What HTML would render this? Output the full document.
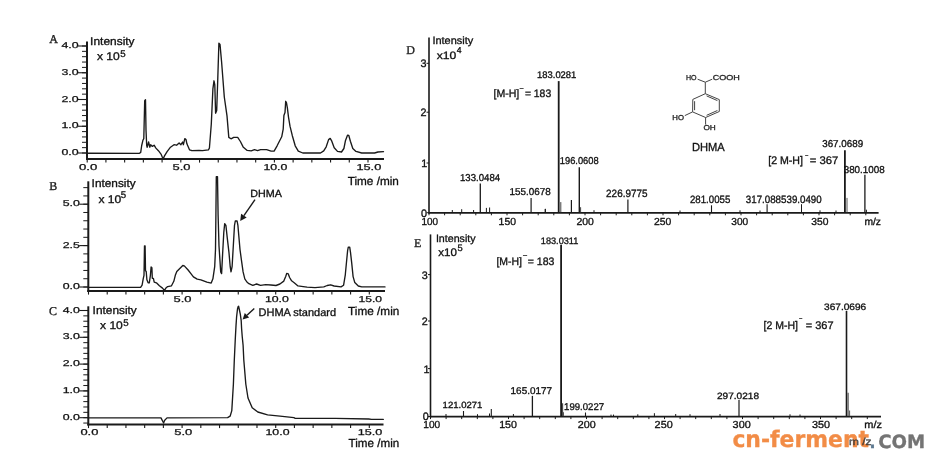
<!DOCTYPE html>
<html><head><meta charset="utf-8"><title>DHMA chromatograms and mass spectra</title>
<style>html,body{margin:0;padding:0;background:#fff;width:938px;height:464px;overflow:hidden}svg{display:block}</style>
</head><body>
<svg width="938" height="464" viewBox="0 0 938 464" font-family="'Liberation Sans', Arial, sans-serif" fill="#111" text-rendering="geometricPrecision">
<rect width="938" height="464" fill="#ffffff"/>
<line x1="87" y1="41.5" x2="87" y2="160" stroke="#1a1a1a" stroke-width="2"/>
<line x1="86" y1="159" x2="384" y2="159" stroke="#1a1a1a" stroke-width="2"/>
<line x1="82" y1="153" x2="87" y2="153" stroke="#1a1a1a" stroke-width="1"/>
<line x1="82" y1="147.65" x2="87" y2="147.65" stroke="#1a1a1a" stroke-width="1"/>
<line x1="82" y1="142.3" x2="87" y2="142.3" stroke="#1a1a1a" stroke-width="1"/>
<line x1="82" y1="136.95" x2="87" y2="136.95" stroke="#1a1a1a" stroke-width="1"/>
<line x1="82" y1="131.6" x2="87" y2="131.6" stroke="#1a1a1a" stroke-width="1"/>
<line x1="82" y1="126.25" x2="87" y2="126.25" stroke="#1a1a1a" stroke-width="1"/>
<line x1="82" y1="120.9" x2="87" y2="120.9" stroke="#1a1a1a" stroke-width="1"/>
<line x1="82" y1="115.55" x2="87" y2="115.55" stroke="#1a1a1a" stroke-width="1"/>
<line x1="82" y1="110.2" x2="87" y2="110.2" stroke="#1a1a1a" stroke-width="1"/>
<line x1="82" y1="104.85" x2="87" y2="104.85" stroke="#1a1a1a" stroke-width="1"/>
<line x1="82" y1="99.5" x2="87" y2="99.5" stroke="#1a1a1a" stroke-width="1"/>
<line x1="82" y1="94.15" x2="87" y2="94.15" stroke="#1a1a1a" stroke-width="1"/>
<line x1="82" y1="88.8" x2="87" y2="88.8" stroke="#1a1a1a" stroke-width="1"/>
<line x1="82" y1="83.45" x2="87" y2="83.45" stroke="#1a1a1a" stroke-width="1"/>
<line x1="82" y1="78.1" x2="87" y2="78.1" stroke="#1a1a1a" stroke-width="1"/>
<line x1="82" y1="72.75" x2="87" y2="72.75" stroke="#1a1a1a" stroke-width="1"/>
<line x1="82" y1="67.4" x2="87" y2="67.4" stroke="#1a1a1a" stroke-width="1"/>
<line x1="82" y1="62.05" x2="87" y2="62.05" stroke="#1a1a1a" stroke-width="1"/>
<line x1="82" y1="56.7" x2="87" y2="56.7" stroke="#1a1a1a" stroke-width="1"/>
<line x1="82" y1="51.35" x2="87" y2="51.35" stroke="#1a1a1a" stroke-width="1"/>
<line x1="82" y1="46" x2="87" y2="46" stroke="#1a1a1a" stroke-width="1"/>
<line x1="78" y1="153" x2="87" y2="153" stroke="#1a1a1a" stroke-width="1.1"/>
<text x="61.4" y="155.1" font-size="8.5" textLength="17.2" lengthAdjust="spacingAndGlyphs" stroke="#111" stroke-width="0.25">0.0</text>
<line x1="78" y1="126.25" x2="87" y2="126.25" stroke="#1a1a1a" stroke-width="1.1"/>
<text x="61.4" y="128.35" font-size="8.5" textLength="17.2" lengthAdjust="spacingAndGlyphs" stroke="#111" stroke-width="0.25">1.0</text>
<line x1="78" y1="99.5" x2="87" y2="99.5" stroke="#1a1a1a" stroke-width="1.1"/>
<text x="61.4" y="101.6" font-size="8.5" textLength="17.2" lengthAdjust="spacingAndGlyphs" stroke="#111" stroke-width="0.25">2.0</text>
<line x1="78" y1="72.75" x2="87" y2="72.75" stroke="#1a1a1a" stroke-width="1.1"/>
<text x="61.4" y="74.85" font-size="8.5" textLength="17.2" lengthAdjust="spacingAndGlyphs" stroke="#111" stroke-width="0.25">3.0</text>
<line x1="78" y1="46" x2="87" y2="46" stroke="#1a1a1a" stroke-width="1.1"/>
<text x="61.4" y="48.1" font-size="8.5" textLength="17.2" lengthAdjust="spacingAndGlyphs" stroke="#111" stroke-width="0.25">4.0</text>
<line x1="87.2" y1="159" x2="87.2" y2="162.6" stroke="#1a1a1a" stroke-width="1.1"/>
<line x1="105.92" y1="159" x2="105.92" y2="162.6" stroke="#1a1a1a" stroke-width="1.1"/>
<line x1="124.64" y1="159" x2="124.64" y2="162.6" stroke="#1a1a1a" stroke-width="1.1"/>
<line x1="143.36" y1="159" x2="143.36" y2="162.6" stroke="#1a1a1a" stroke-width="1.1"/>
<line x1="162.08" y1="159" x2="162.08" y2="162.6" stroke="#1a1a1a" stroke-width="1.1"/>
<line x1="180.8" y1="159" x2="180.8" y2="162.6" stroke="#1a1a1a" stroke-width="1.1"/>
<line x1="199.52" y1="159" x2="199.52" y2="162.6" stroke="#1a1a1a" stroke-width="1.1"/>
<line x1="218.24" y1="159" x2="218.24" y2="162.6" stroke="#1a1a1a" stroke-width="1.1"/>
<line x1="236.96" y1="159" x2="236.96" y2="162.6" stroke="#1a1a1a" stroke-width="1.1"/>
<line x1="255.68" y1="159" x2="255.68" y2="162.6" stroke="#1a1a1a" stroke-width="1.1"/>
<line x1="274.4" y1="159" x2="274.4" y2="162.6" stroke="#1a1a1a" stroke-width="1.1"/>
<line x1="293.12" y1="159" x2="293.12" y2="162.6" stroke="#1a1a1a" stroke-width="1.1"/>
<line x1="311.84" y1="159" x2="311.84" y2="162.6" stroke="#1a1a1a" stroke-width="1.1"/>
<line x1="330.56" y1="159" x2="330.56" y2="162.6" stroke="#1a1a1a" stroke-width="1.1"/>
<line x1="349.28" y1="159" x2="349.28" y2="162.6" stroke="#1a1a1a" stroke-width="1.1"/>
<line x1="368" y1="159" x2="368" y2="162.6" stroke="#1a1a1a" stroke-width="1.1"/>
<text x="79" y="170.3" font-size="8.5" textLength="18.3" lengthAdjust="spacingAndGlyphs" stroke="#111" stroke-width="0.25">0.0</text>
<text x="172.5" y="170.3" font-size="8.5" textLength="18" lengthAdjust="spacingAndGlyphs" stroke="#111" stroke-width="0.25">5.0</text>
<text x="263.4" y="170.3" font-size="8.5" textLength="24" lengthAdjust="spacingAndGlyphs" stroke="#111" stroke-width="0.25">10.0</text>
<text x="356.4" y="170.3" font-size="8.5" textLength="24.9" lengthAdjust="spacingAndGlyphs" stroke="#111" stroke-width="0.25">15.0</text>
<text x="49.2" y="43.4" font-size="12" stroke="#1c1c1c" stroke-width="0.32" font-family="'Liberation Serif', 'Times New Roman', serif" fill="#1c1c1c">A</text>
<text x="90.1" y="44.6" font-size="11.2" stroke="#111" stroke-width="0.32" textLength="44.5" lengthAdjust="spacingAndGlyphs">Intensity</text>
<text x="96.9" y="60.4" font-size="11.2" stroke="#111" stroke-width="0.32" textLength="22.8" lengthAdjust="spacingAndGlyphs">x 10</text>
<text x="120.2" y="56.9" font-size="9.7" stroke="#111" stroke-width="0.32">5</text>
<text x="347.7" y="184.7" font-size="11.6" stroke="#111" stroke-width="0.32" textLength="51.2" lengthAdjust="spacingAndGlyphs">Time /min</text>
<polyline points="88,153.2 139.5,153.3 140.7,152.4 141.7,145.5 142.9,140.3 143.8,138.6 144.7,100.7 145.5,99.8 146,130 146.7,145.5 147.2,147.2 148.6,142 149.8,147.2 150.7,144.7 152.4,146.4 154.1,145.2 155.9,148.1 158.4,150.7 161,154.1 163.1,159 164.5,155.9 167.1,151.6 170.5,147.2 174,144.7 176.6,145.2 179.1,142.9 180.9,144.7 182.6,142 183.4,144.7 184.8,138.6 186,139.5 186.9,143.8 189.5,149.8 192,150.7 199,150.3 202.4,150.7 208.4,149.8 209.4,148.2 211.3,124 212.9,88.9 214,80.8 214.8,84.9 215.6,113.2 216.7,110.5 217.8,78 218.9,43.1 220,44.4 221.6,62 224.3,97 227,115.9 228.8,137.4 231,138.8 233.7,137.4 237.7,137.4 240.4,141.5 243.1,146.9 247.2,150.4 251.2,150.9 254.5,149.6 257.5,150.6 260.6,149.6 266.6,149.6 271.1,151.1 274.1,151.1 277.1,145.8 281.7,136.8 283.2,129.2 283.9,115.6 285,112.6 285.7,101.3 286.5,102.8 287.4,108.1 288.5,117.1 290,126.2 292.2,135.2 295.2,145.8 298.3,151.1 302.8,153 320.5,153 323.7,150.9 326.2,146.8 328.6,139.6 330.2,138.4 331.8,141.2 334.2,147.7 337.5,151.4 341.5,152 343.9,148.5 345.5,140.4 347.5,135.2 348.8,135.5 350.4,141.2 352.8,148.5 356,151.4 361.7,153 374.6,153 377.9,152 383.5,151.7" fill="none" stroke="#1a1a1a" stroke-width="1.35" stroke-linejoin="round" stroke-linecap="round"/>
<line x1="88.3" y1="181.3" x2="88.3" y2="292" stroke="#1a1a1a" stroke-width="2"/>
<line x1="87.3" y1="291" x2="385" y2="291" stroke="#1a1a1a" stroke-width="2"/>
<line x1="83.3" y1="287" x2="88.3" y2="287" stroke="#1a1a1a" stroke-width="1"/>
<line x1="83.3" y1="278.72" x2="88.3" y2="278.72" stroke="#1a1a1a" stroke-width="1"/>
<line x1="83.3" y1="270.44" x2="88.3" y2="270.44" stroke="#1a1a1a" stroke-width="1"/>
<line x1="83.3" y1="262.16" x2="88.3" y2="262.16" stroke="#1a1a1a" stroke-width="1"/>
<line x1="83.3" y1="253.88" x2="88.3" y2="253.88" stroke="#1a1a1a" stroke-width="1"/>
<line x1="83.3" y1="245.6" x2="88.3" y2="245.6" stroke="#1a1a1a" stroke-width="1"/>
<line x1="83.3" y1="237.32" x2="88.3" y2="237.32" stroke="#1a1a1a" stroke-width="1"/>
<line x1="83.3" y1="229.04" x2="88.3" y2="229.04" stroke="#1a1a1a" stroke-width="1"/>
<line x1="83.3" y1="220.76" x2="88.3" y2="220.76" stroke="#1a1a1a" stroke-width="1"/>
<line x1="83.3" y1="212.48" x2="88.3" y2="212.48" stroke="#1a1a1a" stroke-width="1"/>
<line x1="83.3" y1="204.2" x2="88.3" y2="204.2" stroke="#1a1a1a" stroke-width="1"/>
<line x1="83.3" y1="195.92" x2="88.3" y2="195.92" stroke="#1a1a1a" stroke-width="1"/>
<line x1="83.3" y1="187.64" x2="88.3" y2="187.64" stroke="#1a1a1a" stroke-width="1"/>
<line x1="79.3" y1="287" x2="88.3" y2="287" stroke="#1a1a1a" stroke-width="1.1"/>
<text x="62.7" y="289.1" font-size="8.5" textLength="17.2" lengthAdjust="spacingAndGlyphs" stroke="#111" stroke-width="0.25">0.0</text>
<line x1="79.3" y1="245.6" x2="88.3" y2="245.6" stroke="#1a1a1a" stroke-width="1.1"/>
<text x="62.7" y="247.7" font-size="8.5" textLength="17.2" lengthAdjust="spacingAndGlyphs" stroke="#111" stroke-width="0.25">2.5</text>
<line x1="79.3" y1="204.2" x2="88.3" y2="204.2" stroke="#1a1a1a" stroke-width="1.1"/>
<text x="62.7" y="206.3" font-size="8.5" textLength="17.2" lengthAdjust="spacingAndGlyphs" stroke="#111" stroke-width="0.25">5.0</text>
<line x1="88.5" y1="291" x2="88.5" y2="294.6" stroke="#1a1a1a" stroke-width="1.1"/>
<line x1="107.22" y1="291" x2="107.22" y2="294.6" stroke="#1a1a1a" stroke-width="1.1"/>
<line x1="125.94" y1="291" x2="125.94" y2="294.6" stroke="#1a1a1a" stroke-width="1.1"/>
<line x1="144.66" y1="291" x2="144.66" y2="294.6" stroke="#1a1a1a" stroke-width="1.1"/>
<line x1="163.38" y1="291" x2="163.38" y2="294.6" stroke="#1a1a1a" stroke-width="1.1"/>
<line x1="182.1" y1="291" x2="182.1" y2="294.6" stroke="#1a1a1a" stroke-width="1.1"/>
<line x1="200.82" y1="291" x2="200.82" y2="294.6" stroke="#1a1a1a" stroke-width="1.1"/>
<line x1="219.54" y1="291" x2="219.54" y2="294.6" stroke="#1a1a1a" stroke-width="1.1"/>
<line x1="238.26" y1="291" x2="238.26" y2="294.6" stroke="#1a1a1a" stroke-width="1.1"/>
<line x1="256.98" y1="291" x2="256.98" y2="294.6" stroke="#1a1a1a" stroke-width="1.1"/>
<line x1="275.7" y1="291" x2="275.7" y2="294.6" stroke="#1a1a1a" stroke-width="1.1"/>
<line x1="294.42" y1="291" x2="294.42" y2="294.6" stroke="#1a1a1a" stroke-width="1.1"/>
<line x1="313.14" y1="291" x2="313.14" y2="294.6" stroke="#1a1a1a" stroke-width="1.1"/>
<line x1="331.86" y1="291" x2="331.86" y2="294.6" stroke="#1a1a1a" stroke-width="1.1"/>
<line x1="350.58" y1="291" x2="350.58" y2="294.6" stroke="#1a1a1a" stroke-width="1.1"/>
<line x1="369.3" y1="291" x2="369.3" y2="294.6" stroke="#1a1a1a" stroke-width="1.1"/>
<text x="173.5" y="302.2" font-size="8.5" textLength="18" lengthAdjust="spacingAndGlyphs" stroke="#111" stroke-width="0.25">5.0</text>
<text x="264.9" y="302.2" font-size="8.5" textLength="24" lengthAdjust="spacingAndGlyphs" stroke="#111" stroke-width="0.25">10.0</text>
<text x="358.5" y="302.2" font-size="8.5" textLength="23.6" lengthAdjust="spacingAndGlyphs" stroke="#111" stroke-width="0.25">15.0</text>
<text x="49.2" y="189.5" font-size="12" stroke="#1c1c1c" stroke-width="0.32" font-family="'Liberation Serif', 'Times New Roman', serif" fill="#1c1c1c">B</text>
<text x="91.6" y="187.1" font-size="11.2" stroke="#111" stroke-width="0.32" textLength="44.1" lengthAdjust="spacingAndGlyphs">Intensity</text>
<text x="98.4" y="202.5" font-size="11.2" stroke="#111" stroke-width="0.32" textLength="22.8" lengthAdjust="spacingAndGlyphs">x 10</text>
<text x="120.8" y="198" font-size="9.7" stroke="#111" stroke-width="0.32">5</text>
<text x="348.1" y="314.6" font-size="11.6" stroke="#111" stroke-width="0.32" textLength="51.2" lengthAdjust="spacingAndGlyphs">Time /min</text>
<polyline points="88.5,287.4 140.6,287.4 142.1,285.1 143.3,278.3 144,275.3 144.5,245.8 145.1,245.8 145.5,270.8 146.2,271.5 146.9,279.8 148.1,282.8 149.3,282.8 150.4,275.3 151.1,267 151.9,267.7 152.3,278.3 153.4,278.3 154.2,282.1 156.4,282.8 159.4,285.8 162.5,288.1 164.4,290.4 165.9,288.1 167.7,286.6 171.5,285.8 173.8,281.3 175.3,275.3 176.8,271.5 179.8,268.5 182.8,265.5 184.3,265.9 188.1,270 191.1,273.8 193.4,276.8 197.2,279.1 200.9,279.8 206.9,282.2 211.2,283.1 212.9,278.8 214.7,266.7 215.5,249.5 215.9,215 216.3,176.7 217.5,176.7 218.1,215 219,246 219.8,258.1 220.7,271.9 221.6,273.6 222.4,258.1 223.8,232.2 224.7,223.6 225.9,225.3 227.2,237.4 229,252.9 230.2,266.7 231,271.9 232.1,266.7 233.3,246 234.5,225.3 235.3,221 237.1,221 237.9,225.3 238.8,235.7 240,249.5 241.4,259.8 243.1,271.9 244.8,278.8 246.9,282 248.9,283.7 252.8,285.3 256.6,284 260.5,285.3 265.7,284.6 270.9,285 276,285.5 279.9,284 283.8,281.1 285.8,276.2 286.7,273.4 288.3,273.9 289.6,277.5 291.6,280.8 294.2,282.7 298,285.9 303.2,286.6 307.1,287.2 315,287.6 323.8,286.9 327.2,285.5 330.7,284.8 334.1,286 341,286.9 343.6,285.2 345.3,274.8 346.6,261 347.6,250.7 348.3,247.2 349.7,247.2 350.5,252.4 351.7,262.8 353.1,276.6 354.8,282.6 358.3,286 361.7,286.9 385,286.9" fill="none" stroke="#1a1a1a" stroke-width="1.35" stroke-linejoin="round" stroke-linecap="round"/>
<text x="250.3" y="197.2" font-size="10.4" stroke="#111" stroke-width="0.32" textLength="31.6" lengthAdjust="spacingAndGlyphs">DHMA</text>
<line x1="88.3" y1="306.3" x2="88.3" y2="425.5" stroke="#1a1a1a" stroke-width="2"/>
<line x1="87.3" y1="424.5" x2="383.5" y2="424.5" stroke="#1a1a1a" stroke-width="2"/>
<line x1="83.3" y1="423.06" x2="88.3" y2="423.06" stroke="#1a1a1a" stroke-width="1"/>
<line x1="83.3" y1="417.7" x2="88.3" y2="417.7" stroke="#1a1a1a" stroke-width="1"/>
<line x1="83.3" y1="412.34" x2="88.3" y2="412.34" stroke="#1a1a1a" stroke-width="1"/>
<line x1="83.3" y1="406.98" x2="88.3" y2="406.98" stroke="#1a1a1a" stroke-width="1"/>
<line x1="83.3" y1="401.62" x2="88.3" y2="401.62" stroke="#1a1a1a" stroke-width="1"/>
<line x1="83.3" y1="396.26" x2="88.3" y2="396.26" stroke="#1a1a1a" stroke-width="1"/>
<line x1="83.3" y1="390.9" x2="88.3" y2="390.9" stroke="#1a1a1a" stroke-width="1"/>
<line x1="83.3" y1="385.54" x2="88.3" y2="385.54" stroke="#1a1a1a" stroke-width="1"/>
<line x1="83.3" y1="380.18" x2="88.3" y2="380.18" stroke="#1a1a1a" stroke-width="1"/>
<line x1="83.3" y1="374.82" x2="88.3" y2="374.82" stroke="#1a1a1a" stroke-width="1"/>
<line x1="83.3" y1="369.46" x2="88.3" y2="369.46" stroke="#1a1a1a" stroke-width="1"/>
<line x1="83.3" y1="364.1" x2="88.3" y2="364.1" stroke="#1a1a1a" stroke-width="1"/>
<line x1="83.3" y1="358.74" x2="88.3" y2="358.74" stroke="#1a1a1a" stroke-width="1"/>
<line x1="83.3" y1="353.38" x2="88.3" y2="353.38" stroke="#1a1a1a" stroke-width="1"/>
<line x1="83.3" y1="348.02" x2="88.3" y2="348.02" stroke="#1a1a1a" stroke-width="1"/>
<line x1="83.3" y1="342.66" x2="88.3" y2="342.66" stroke="#1a1a1a" stroke-width="1"/>
<line x1="83.3" y1="337.3" x2="88.3" y2="337.3" stroke="#1a1a1a" stroke-width="1"/>
<line x1="83.3" y1="331.94" x2="88.3" y2="331.94" stroke="#1a1a1a" stroke-width="1"/>
<line x1="83.3" y1="326.58" x2="88.3" y2="326.58" stroke="#1a1a1a" stroke-width="1"/>
<line x1="83.3" y1="321.22" x2="88.3" y2="321.22" stroke="#1a1a1a" stroke-width="1"/>
<line x1="83.3" y1="315.86" x2="88.3" y2="315.86" stroke="#1a1a1a" stroke-width="1"/>
<line x1="83.3" y1="310.5" x2="88.3" y2="310.5" stroke="#1a1a1a" stroke-width="1"/>
<line x1="79.3" y1="417.7" x2="88.3" y2="417.7" stroke="#1a1a1a" stroke-width="1.1"/>
<text x="62.7" y="419.8" font-size="8.5" textLength="17.2" lengthAdjust="spacingAndGlyphs" stroke="#111" stroke-width="0.25">0.0</text>
<line x1="79.3" y1="390.9" x2="88.3" y2="390.9" stroke="#1a1a1a" stroke-width="1.1"/>
<text x="62.7" y="393" font-size="8.5" textLength="17.2" lengthAdjust="spacingAndGlyphs" stroke="#111" stroke-width="0.25">1.0</text>
<line x1="79.3" y1="364.1" x2="88.3" y2="364.1" stroke="#1a1a1a" stroke-width="1.1"/>
<text x="62.7" y="366.2" font-size="8.5" textLength="17.2" lengthAdjust="spacingAndGlyphs" stroke="#111" stroke-width="0.25">2.0</text>
<line x1="79.3" y1="337.3" x2="88.3" y2="337.3" stroke="#1a1a1a" stroke-width="1.1"/>
<text x="62.7" y="339.4" font-size="8.5" textLength="17.2" lengthAdjust="spacingAndGlyphs" stroke="#111" stroke-width="0.25">3.0</text>
<line x1="79.3" y1="310.5" x2="88.3" y2="310.5" stroke="#1a1a1a" stroke-width="1.1"/>
<text x="62.7" y="312.6" font-size="8.5" textLength="17.2" lengthAdjust="spacingAndGlyphs" stroke="#111" stroke-width="0.25">4.0</text>
<line x1="88.5" y1="424.5" x2="88.5" y2="428.1" stroke="#1a1a1a" stroke-width="1.1"/>
<line x1="107.22" y1="424.5" x2="107.22" y2="428.1" stroke="#1a1a1a" stroke-width="1.1"/>
<line x1="125.94" y1="424.5" x2="125.94" y2="428.1" stroke="#1a1a1a" stroke-width="1.1"/>
<line x1="144.66" y1="424.5" x2="144.66" y2="428.1" stroke="#1a1a1a" stroke-width="1.1"/>
<line x1="163.38" y1="424.5" x2="163.38" y2="428.1" stroke="#1a1a1a" stroke-width="1.1"/>
<line x1="182.1" y1="424.5" x2="182.1" y2="428.1" stroke="#1a1a1a" stroke-width="1.1"/>
<line x1="200.82" y1="424.5" x2="200.82" y2="428.1" stroke="#1a1a1a" stroke-width="1.1"/>
<line x1="219.54" y1="424.5" x2="219.54" y2="428.1" stroke="#1a1a1a" stroke-width="1.1"/>
<line x1="238.26" y1="424.5" x2="238.26" y2="428.1" stroke="#1a1a1a" stroke-width="1.1"/>
<line x1="256.98" y1="424.5" x2="256.98" y2="428.1" stroke="#1a1a1a" stroke-width="1.1"/>
<line x1="275.7" y1="424.5" x2="275.7" y2="428.1" stroke="#1a1a1a" stroke-width="1.1"/>
<line x1="294.42" y1="424.5" x2="294.42" y2="428.1" stroke="#1a1a1a" stroke-width="1.1"/>
<line x1="313.14" y1="424.5" x2="313.14" y2="428.1" stroke="#1a1a1a" stroke-width="1.1"/>
<line x1="331.86" y1="424.5" x2="331.86" y2="428.1" stroke="#1a1a1a" stroke-width="1.1"/>
<line x1="350.58" y1="424.5" x2="350.58" y2="428.1" stroke="#1a1a1a" stroke-width="1.1"/>
<line x1="369.3" y1="424.5" x2="369.3" y2="428.1" stroke="#1a1a1a" stroke-width="1.1"/>
<text x="80.4" y="435" font-size="8.5" textLength="18" lengthAdjust="spacingAndGlyphs" stroke="#111" stroke-width="0.25">0.0</text>
<text x="174.2" y="435" font-size="8.5" textLength="18.1" lengthAdjust="spacingAndGlyphs" stroke="#111" stroke-width="0.25">5.0</text>
<text x="265.5" y="435" font-size="8.5" textLength="24" lengthAdjust="spacingAndGlyphs" stroke="#111" stroke-width="0.25">10.0</text>
<text x="357.8" y="435" font-size="8.5" textLength="24.6" lengthAdjust="spacingAndGlyphs" stroke="#111" stroke-width="0.25">15.0</text>
<text x="49.1" y="314.6" font-size="12" stroke="#1c1c1c" stroke-width="0.32" font-family="'Liberation Serif', 'Times New Roman', serif" fill="#1c1c1c">C</text>
<text x="92.6" y="313.8" font-size="11.2" stroke="#111" stroke-width="0.32" textLength="44.2" lengthAdjust="spacingAndGlyphs">Intensity</text>
<text x="100" y="329.3" font-size="11.2" stroke="#111" stroke-width="0.32" textLength="22.8" lengthAdjust="spacingAndGlyphs">x 10</text>
<text x="123.2" y="325.5" font-size="9.7" stroke="#111" stroke-width="0.32">5</text>
<text x="348.6" y="446.8" font-size="11.6" stroke="#111" stroke-width="0.32" textLength="50.6" lengthAdjust="spacingAndGlyphs">Time /min</text>
<polyline points="88.5,417.9 161,417.9 162.7,421.3 163.6,423 164.5,420.5 167,417.9 227.6,417.6 230.1,416.2 231.8,410.6 233.4,384 234.3,360 235.3,338.8 236,325.9 236.6,316.8 237.5,309 238.2,306.5 238.6,306.2 239.2,309 240.3,314.2 241.2,320.7 241.6,328.5 242.2,336.2 243.1,345.3 243.8,360 245.8,384 248,398 252.2,407.8 257.8,412 267.6,414.8 280,416.2 293.9,417.7 295.2,418.3 335.4,418.4 368.7,419 371.5,419.4 383.3,419.4" fill="none" stroke="#1a1a1a" stroke-width="1.35" stroke-linejoin="round" stroke-linecap="round"/>
<text x="258.5" y="315.8" font-size="10.9" stroke="#111" stroke-width="0.32" textLength="77.6" lengthAdjust="spacingAndGlyphs">DHMA standard</text>
<line x1="255" y1="199.7" x2="243.91" y2="215.66" stroke="#1a1a1a" stroke-width="1.4"/>
<polygon points="240.2,221 241.12,213.72 246.7,217.6" fill="#1a1a1a"/>
<line x1="254.3" y1="308.4" x2="246.97" y2="315.29" stroke="#1a1a1a" stroke-width="1.4"/>
<polygon points="242.6,319.4 244.78,312.96 249.16,317.62" fill="#1a1a1a"/>
<line x1="429" y1="37.5" x2="429" y2="213.8" stroke="#1a1a1a" stroke-width="1.6"/>
<line x1="428.5" y1="212.8" x2="878.6" y2="212.8" stroke="#1a1a1a" stroke-width="1.8"/>
<text x="420.4" y="67.2" font-size="10.8" stroke="#111" stroke-width="0.32">3</text>
<line x1="426.5" y1="63.3" x2="429" y2="63.3" stroke="#1a1a1a" stroke-width="1"/>
<text x="420.4" y="116.1" font-size="10.8" stroke="#111" stroke-width="0.32">2</text>
<line x1="426.5" y1="112.2" x2="429" y2="112.2" stroke="#1a1a1a" stroke-width="1"/>
<text x="421.25" y="166.9" font-size="10.8" stroke="#111" stroke-width="0.32">1</text>
<line x1="426.5" y1="163" x2="429" y2="163" stroke="#1a1a1a" stroke-width="1"/>
<text x="421.05" y="216.6" font-size="10.8" stroke="#111" stroke-width="0.32">0</text>
<line x1="426.5" y1="212.7" x2="429" y2="212.7" stroke="#1a1a1a" stroke-width="1"/>
<line x1="429" y1="212.8" x2="429" y2="215.3" stroke="#1a1a1a" stroke-width="1"/>
<line x1="444.6" y1="212.8" x2="444.6" y2="215.3" stroke="#1a1a1a" stroke-width="1"/>
<line x1="460.2" y1="212.8" x2="460.2" y2="215.3" stroke="#1a1a1a" stroke-width="1"/>
<line x1="475.8" y1="212.8" x2="475.8" y2="215.3" stroke="#1a1a1a" stroke-width="1"/>
<line x1="491.4" y1="212.8" x2="491.4" y2="215.3" stroke="#1a1a1a" stroke-width="1"/>
<line x1="507" y1="212.8" x2="507" y2="215.3" stroke="#1a1a1a" stroke-width="1"/>
<line x1="522.6" y1="212.8" x2="522.6" y2="215.3" stroke="#1a1a1a" stroke-width="1"/>
<line x1="538.2" y1="212.8" x2="538.2" y2="215.3" stroke="#1a1a1a" stroke-width="1"/>
<line x1="553.8" y1="212.8" x2="553.8" y2="215.3" stroke="#1a1a1a" stroke-width="1"/>
<line x1="569.4" y1="212.8" x2="569.4" y2="215.3" stroke="#1a1a1a" stroke-width="1"/>
<line x1="585" y1="212.8" x2="585" y2="215.3" stroke="#1a1a1a" stroke-width="1"/>
<line x1="600.6" y1="212.8" x2="600.6" y2="215.3" stroke="#1a1a1a" stroke-width="1"/>
<line x1="616.2" y1="212.8" x2="616.2" y2="215.3" stroke="#1a1a1a" stroke-width="1"/>
<line x1="631.8" y1="212.8" x2="631.8" y2="215.3" stroke="#1a1a1a" stroke-width="1"/>
<line x1="647.4" y1="212.8" x2="647.4" y2="215.3" stroke="#1a1a1a" stroke-width="1"/>
<line x1="663" y1="212.8" x2="663" y2="215.3" stroke="#1a1a1a" stroke-width="1"/>
<line x1="678.6" y1="212.8" x2="678.6" y2="215.3" stroke="#1a1a1a" stroke-width="1"/>
<line x1="694.2" y1="212.8" x2="694.2" y2="215.3" stroke="#1a1a1a" stroke-width="1"/>
<line x1="709.8" y1="212.8" x2="709.8" y2="215.3" stroke="#1a1a1a" stroke-width="1"/>
<line x1="725.4" y1="212.8" x2="725.4" y2="215.3" stroke="#1a1a1a" stroke-width="1"/>
<line x1="741" y1="212.8" x2="741" y2="215.3" stroke="#1a1a1a" stroke-width="1"/>
<line x1="756.6" y1="212.8" x2="756.6" y2="215.3" stroke="#1a1a1a" stroke-width="1"/>
<line x1="772.2" y1="212.8" x2="772.2" y2="215.3" stroke="#1a1a1a" stroke-width="1"/>
<line x1="787.8" y1="212.8" x2="787.8" y2="215.3" stroke="#1a1a1a" stroke-width="1"/>
<line x1="803.4" y1="212.8" x2="803.4" y2="215.3" stroke="#1a1a1a" stroke-width="1"/>
<line x1="819" y1="212.8" x2="819" y2="215.3" stroke="#1a1a1a" stroke-width="1"/>
<line x1="834.6" y1="212.8" x2="834.6" y2="215.3" stroke="#1a1a1a" stroke-width="1"/>
<line x1="850.2" y1="212.8" x2="850.2" y2="215.3" stroke="#1a1a1a" stroke-width="1"/>
<line x1="865.8" y1="212.8" x2="865.8" y2="215.3" stroke="#1a1a1a" stroke-width="1"/>
<text x="421.5" y="224.9" font-size="10.2" stroke="#111" stroke-width="0.32" textLength="16.6" lengthAdjust="spacingAndGlyphs">100</text>
<text x="498.6" y="224.9" font-size="10.2" stroke="#111" stroke-width="0.32" textLength="17.4" lengthAdjust="spacingAndGlyphs">150</text>
<text x="576.5" y="224.9" font-size="10.2" stroke="#111" stroke-width="0.32" textLength="17.4" lengthAdjust="spacingAndGlyphs">200</text>
<text x="653.9" y="224.9" font-size="10.2" stroke="#111" stroke-width="0.32" textLength="17.3" lengthAdjust="spacingAndGlyphs">250</text>
<text x="731.3" y="224.9" font-size="10.2" stroke="#111" stroke-width="0.32" textLength="16.9" lengthAdjust="spacingAndGlyphs">300</text>
<text x="811.2" y="224.9" font-size="10.2" stroke="#111" stroke-width="0.32" textLength="17.2" lengthAdjust="spacingAndGlyphs">350</text>
<text x="864.4" y="224.9" font-size="10.2" stroke="#111" stroke-width="0.32" textLength="16.6" lengthAdjust="spacingAndGlyphs">m/z</text>
<text x="406.2" y="53.6" font-size="12" stroke="#1c1c1c" stroke-width="0.32" font-family="'Liberation Serif', 'Times New Roman', serif" fill="#1c1c1c">D</text>
<text x="432.4" y="44.3" font-size="10.6" stroke="#111" stroke-width="0.32" textLength="40.8" lengthAdjust="spacingAndGlyphs">Intensity</text>
<text x="436.7" y="58.7" font-size="10.6" stroke="#111" stroke-width="0.32" textLength="19.6" lengthAdjust="spacingAndGlyphs">x10</text>
<text x="456.8" y="52.6" font-size="8.6" stroke="#111" stroke-width="0.32">4</text>
<line x1="480.3" y1="212.3" x2="480.3" y2="183.4" stroke="#1a1a1a" stroke-width="1.3"/>
<line x1="531.1" y1="212.3" x2="531.1" y2="198" stroke="#1a1a1a" stroke-width="1.2"/>
<line x1="545.4" y1="212.3" x2="545.4" y2="208.8" stroke="#1a1a1a" stroke-width="1"/>
<line x1="558.7" y1="212.3" x2="558.7" y2="81.1" stroke="#1a1a1a" stroke-width="1.8"/>
<line x1="560.8" y1="212.3" x2="560.8" y2="202.1" stroke="#444" stroke-width="1"/>
<line x1="571.4" y1="212.3" x2="571.4" y2="200" stroke="#1a1a1a" stroke-width="1.2"/>
<line x1="579.3" y1="212.3" x2="579.3" y2="167.2" stroke="#1a1a1a" stroke-width="1.4"/>
<line x1="580.6" y1="212.3" x2="580.6" y2="207.2" stroke="#444" stroke-width="1"/>
<line x1="627.9" y1="212.3" x2="627.9" y2="199.4" stroke="#1a1a1a" stroke-width="1.2"/>
<line x1="711.5" y1="212.3" x2="711.5" y2="205.3" stroke="#1a1a1a" stroke-width="1.1"/>
<line x1="767.1" y1="212.3" x2="767.1" y2="204.2" stroke="#1a1a1a" stroke-width="1.1"/>
<line x1="801.5" y1="212.3" x2="801.5" y2="204.2" stroke="#1a1a1a" stroke-width="1"/>
<line x1="844.9" y1="212.3" x2="844.9" y2="150.3" stroke="#1a1a1a" stroke-width="1.8"/>
<line x1="847" y1="212.3" x2="847" y2="197.9" stroke="#555" stroke-width="1"/>
<line x1="864.9" y1="212.3" x2="864.9" y2="174.8" stroke="#1a1a1a" stroke-width="1.3"/>
<line x1="866.4" y1="212.3" x2="866.4" y2="209.7" stroke="#1a1a1a" stroke-width="1"/>
<line x1="452.3" y1="212.3" x2="452.3" y2="210" stroke="#1a1a1a" stroke-width="1"/>
<line x1="461.7" y1="212.3" x2="461.7" y2="209.2" stroke="#1a1a1a" stroke-width="1"/>
<line x1="473.6" y1="212.3" x2="473.6" y2="210" stroke="#1a1a1a" stroke-width="1"/>
<line x1="486.4" y1="212.3" x2="486.4" y2="207.9" stroke="#1a1a1a" stroke-width="1"/>
<line x1="489.6" y1="212.3" x2="489.6" y2="207.5" stroke="#1a1a1a" stroke-width="1"/>
<line x1="545.2" y1="212.3" x2="545.2" y2="209" stroke="#1a1a1a" stroke-width="1"/>
<line x1="594" y1="212.3" x2="594" y2="210.2" stroke="#1a1a1a" stroke-width="1"/>
<line x1="680" y1="212.3" x2="680" y2="210.5" stroke="#1a1a1a" stroke-width="1"/>
<line x1="740" y1="212.3" x2="740" y2="210.3" stroke="#1a1a1a" stroke-width="1"/>
<line x1="760" y1="212.3" x2="760" y2="210.5" stroke="#1a1a1a" stroke-width="1"/>
<line x1="820" y1="212.3" x2="820" y2="210.3" stroke="#1a1a1a" stroke-width="1"/>
<line x1="836" y1="212.3" x2="836" y2="210.5" stroke="#1a1a1a" stroke-width="1"/>
<text x="460" y="181.1" font-size="10" stroke="#111" stroke-width="0.32" textLength="40.1" lengthAdjust="spacingAndGlyphs">133.0484</text>
<text x="509.5" y="194.5" font-size="10" stroke="#111" stroke-width="0.32" textLength="41.2" lengthAdjust="spacingAndGlyphs">155.0678</text>
<text x="537.1" y="78.3" font-size="9.6" stroke="#111" stroke-width="0.32" textLength="39.2" lengthAdjust="spacingAndGlyphs">183.0281</text>
<text x="559.8" y="164.1" font-size="10" stroke="#111" stroke-width="0.32" textLength="38.8" lengthAdjust="spacingAndGlyphs">196.0608</text>
<text x="606.1" y="197" font-size="10.6" stroke="#111" stroke-width="0.32" textLength="41.4" lengthAdjust="spacingAndGlyphs">226.9775</text>
<text x="690" y="203" font-size="10.6" stroke="#111" stroke-width="0.32" textLength="40.3" lengthAdjust="spacingAndGlyphs">281.0055</text>
<text x="745.8" y="203" font-size="10.6" stroke="#111" stroke-width="0.32" textLength="75.9" lengthAdjust="spacingAndGlyphs">317.088539.0490</text>
<text x="822.2" y="147.4" font-size="10" stroke="#111" stroke-width="0.32" textLength="40.9" lengthAdjust="spacingAndGlyphs">367.0689</text>
<text x="843.7" y="172.9" font-size="10" stroke="#111" stroke-width="0.32" textLength="41" lengthAdjust="spacingAndGlyphs">380.1008</text>
<text x="493.5" y="96.9" font-size="10.8" stroke="#111" stroke-width="0.32" textLength="25.8" lengthAdjust="spacingAndGlyphs">[M-H]</text>
<text x="519.6" y="90.6" font-size="7" stroke="#111" stroke-width="0.32" textLength="4.2" lengthAdjust="spacingAndGlyphs">−</text>
<text x="524.9" y="96.9" font-size="10.8" stroke="#111" stroke-width="0.32" textLength="26.3" lengthAdjust="spacingAndGlyphs">= 183</text>
<text x="768.2" y="163.6" font-size="11" stroke="#111" stroke-width="0.32" textLength="34.8" lengthAdjust="spacingAndGlyphs">[2 M-H]</text>
<text x="805" y="157.8" font-size="7" stroke="#111" stroke-width="0.32" textLength="3.4" lengthAdjust="spacingAndGlyphs">−</text>
<text x="809.8" y="163.6" font-size="11" stroke="#111" stroke-width="0.32" textLength="28.6" lengthAdjust="spacingAndGlyphs">= 367</text>
<line x1="697.6" y1="79.2" x2="705.3" y2="82.2" stroke="#444" stroke-width="1"/>
<line x1="705.3" y1="82.2" x2="712.2" y2="79.2" stroke="#444" stroke-width="1"/>
<line x1="705.3" y1="82.2" x2="705.3" y2="93.7" stroke="#444" stroke-width="1"/>
<polyline points="705.3,93.7 719.3,99.6 719.3,111.5 705.6,117.5 692.6,111.9 692.8,99.4 705.3,93.7" fill="none" stroke="#444" stroke-width="1" stroke-linejoin="round"/>
<line x1="706.6" y1="95.9" x2="717.4" y2="100.6" stroke="#444" stroke-width="1"/>
<line x1="717.4" y1="110.5" x2="706.6" y2="115.3" stroke="#444" stroke-width="1"/>
<line x1="694.6" y1="101.2" x2="694.6" y2="110.2" stroke="#444" stroke-width="1"/>
<line x1="692.6" y1="111.9" x2="684.8" y2="115.6" stroke="#444" stroke-width="1"/>
<line x1="705.6" y1="117.5" x2="705.6" y2="124.6" stroke="#444" stroke-width="1"/>
<text x="686" y="79.8" font-size="7.2" stroke="#2a2a2a" stroke-width="0.32" textLength="10.6" lengthAdjust="spacingAndGlyphs" fill="#2a2a2a">HO</text>
<text x="712.8" y="79.8" font-size="7.2" stroke="#2a2a2a" stroke-width="0.32" textLength="27.1" lengthAdjust="spacingAndGlyphs" fill="#2a2a2a">COOH</text>
<text x="672.3" y="119.5" font-size="7.2" stroke="#2a2a2a" stroke-width="0.32" textLength="11.6" lengthAdjust="spacingAndGlyphs" fill="#2a2a2a">HO</text>
<text x="703.4" y="130.3" font-size="7.2" stroke="#2a2a2a" stroke-width="0.32" textLength="12.3" lengthAdjust="spacingAndGlyphs" fill="#2a2a2a">OH</text>
<text x="692" y="151.2" font-size="11.6" stroke="#111" stroke-width="0.32" textLength="32.8" lengthAdjust="spacingAndGlyphs">DHMA</text>
<line x1="430.5" y1="234.4" x2="430.5" y2="417.6" stroke="#1a1a1a" stroke-width="1.6"/>
<line x1="430" y1="416.6" x2="881" y2="416.6" stroke="#1a1a1a" stroke-width="1.8"/>
<text x="421.8" y="278.5" font-size="10.8" stroke="#111" stroke-width="0.32">3</text>
<line x1="428" y1="274.6" x2="430.5" y2="274.6" stroke="#1a1a1a" stroke-width="1"/>
<text x="421.8" y="324.9" font-size="10.8" stroke="#111" stroke-width="0.32">2</text>
<line x1="428" y1="321" x2="430.5" y2="321" stroke="#1a1a1a" stroke-width="1"/>
<text x="423.5" y="372.5" font-size="10.8" stroke="#111" stroke-width="0.32">1</text>
<line x1="428" y1="368.6" x2="430.5" y2="368.6" stroke="#1a1a1a" stroke-width="1"/>
<text x="422.75" y="420.4" font-size="10.8" stroke="#111" stroke-width="0.32">0</text>
<line x1="428" y1="416.5" x2="430.5" y2="416.5" stroke="#1a1a1a" stroke-width="1"/>
<line x1="430.5" y1="416.6" x2="430.5" y2="419.1" stroke="#1a1a1a" stroke-width="1"/>
<line x1="446.1" y1="416.6" x2="446.1" y2="419.1" stroke="#1a1a1a" stroke-width="1"/>
<line x1="461.7" y1="416.6" x2="461.7" y2="419.1" stroke="#1a1a1a" stroke-width="1"/>
<line x1="477.3" y1="416.6" x2="477.3" y2="419.1" stroke="#1a1a1a" stroke-width="1"/>
<line x1="492.9" y1="416.6" x2="492.9" y2="419.1" stroke="#1a1a1a" stroke-width="1"/>
<line x1="508.5" y1="416.6" x2="508.5" y2="419.1" stroke="#1a1a1a" stroke-width="1"/>
<line x1="524.1" y1="416.6" x2="524.1" y2="419.1" stroke="#1a1a1a" stroke-width="1"/>
<line x1="539.7" y1="416.6" x2="539.7" y2="419.1" stroke="#1a1a1a" stroke-width="1"/>
<line x1="555.3" y1="416.6" x2="555.3" y2="419.1" stroke="#1a1a1a" stroke-width="1"/>
<line x1="570.9" y1="416.6" x2="570.9" y2="419.1" stroke="#1a1a1a" stroke-width="1"/>
<line x1="586.5" y1="416.6" x2="586.5" y2="419.1" stroke="#1a1a1a" stroke-width="1"/>
<line x1="602.1" y1="416.6" x2="602.1" y2="419.1" stroke="#1a1a1a" stroke-width="1"/>
<line x1="617.7" y1="416.6" x2="617.7" y2="419.1" stroke="#1a1a1a" stroke-width="1"/>
<line x1="633.3" y1="416.6" x2="633.3" y2="419.1" stroke="#1a1a1a" stroke-width="1"/>
<line x1="648.9" y1="416.6" x2="648.9" y2="419.1" stroke="#1a1a1a" stroke-width="1"/>
<line x1="664.5" y1="416.6" x2="664.5" y2="419.1" stroke="#1a1a1a" stroke-width="1"/>
<line x1="680.1" y1="416.6" x2="680.1" y2="419.1" stroke="#1a1a1a" stroke-width="1"/>
<line x1="695.7" y1="416.6" x2="695.7" y2="419.1" stroke="#1a1a1a" stroke-width="1"/>
<line x1="711.3" y1="416.6" x2="711.3" y2="419.1" stroke="#1a1a1a" stroke-width="1"/>
<line x1="726.9" y1="416.6" x2="726.9" y2="419.1" stroke="#1a1a1a" stroke-width="1"/>
<line x1="742.5" y1="416.6" x2="742.5" y2="419.1" stroke="#1a1a1a" stroke-width="1"/>
<line x1="758.1" y1="416.6" x2="758.1" y2="419.1" stroke="#1a1a1a" stroke-width="1"/>
<line x1="773.7" y1="416.6" x2="773.7" y2="419.1" stroke="#1a1a1a" stroke-width="1"/>
<line x1="789.3" y1="416.6" x2="789.3" y2="419.1" stroke="#1a1a1a" stroke-width="1"/>
<line x1="804.9" y1="416.6" x2="804.9" y2="419.1" stroke="#1a1a1a" stroke-width="1"/>
<line x1="820.5" y1="416.6" x2="820.5" y2="419.1" stroke="#1a1a1a" stroke-width="1"/>
<line x1="836.1" y1="416.6" x2="836.1" y2="419.1" stroke="#1a1a1a" stroke-width="1"/>
<line x1="851.7" y1="416.6" x2="851.7" y2="419.1" stroke="#1a1a1a" stroke-width="1"/>
<line x1="867.3" y1="416.6" x2="867.3" y2="419.1" stroke="#1a1a1a" stroke-width="1"/>
<text x="423.3" y="428.4" font-size="10.2" stroke="#111" stroke-width="0.32" textLength="16.9" lengthAdjust="spacingAndGlyphs">100</text>
<text x="499.2" y="428.4" font-size="10.2" stroke="#111" stroke-width="0.32" textLength="17.8" lengthAdjust="spacingAndGlyphs">150</text>
<text x="577.8" y="428.4" font-size="10.2" stroke="#111" stroke-width="0.32" textLength="17.9" lengthAdjust="spacingAndGlyphs">200</text>
<text x="654.6" y="428.4" font-size="10.2" stroke="#111" stroke-width="0.32" textLength="18.1" lengthAdjust="spacingAndGlyphs">250</text>
<text x="732.6" y="428.4" font-size="10.2" stroke="#111" stroke-width="0.32" textLength="18.1" lengthAdjust="spacingAndGlyphs">300</text>
<text x="811.9" y="428.4" font-size="10.2" stroke="#111" stroke-width="0.32" textLength="18.1" lengthAdjust="spacingAndGlyphs">350</text>
<text x="864.3" y="428.4" font-size="10.2" stroke="#111" stroke-width="0.32" textLength="17.7" lengthAdjust="spacingAndGlyphs">m/z</text>
<text x="414" y="246.6" font-size="12" stroke="#1c1c1c" stroke-width="0.32" font-family="'Liberation Serif', 'Times New Roman', serif" fill="#1c1c1c">E</text>
<text x="435.9" y="242.3" font-size="10.6" stroke="#111" stroke-width="0.32" textLength="39.7" lengthAdjust="spacingAndGlyphs">Intensity</text>
<text x="438.3" y="256" font-size="11" stroke="#111" stroke-width="0.32" textLength="18.6" lengthAdjust="spacingAndGlyphs">x10</text>
<text x="457.6" y="250.6" font-size="9.3" stroke="#111" stroke-width="0.32">5</text>
<line x1="463.5" y1="416.1" x2="463.5" y2="411" stroke="#1a1a1a" stroke-width="1.1"/>
<line x1="491.3" y1="416.1" x2="491.3" y2="409.1" stroke="#1a1a1a" stroke-width="1.1"/>
<line x1="489.5" y1="416.1" x2="489.5" y2="413.5" stroke="#1a1a1a" stroke-width="1"/>
<line x1="532.4" y1="416.1" x2="532.4" y2="395.9" stroke="#1a1a1a" stroke-width="1.3"/>
<line x1="561.1" y1="416.1" x2="561.1" y2="244.8" stroke="#1a1a1a" stroke-width="1.8"/>
<line x1="562.6" y1="416.1" x2="562.6" y2="403.2" stroke="#444" stroke-width="1.1"/>
<line x1="563.5" y1="416.1" x2="563.5" y2="412.2" stroke="#555" stroke-width="1"/>
<line x1="585.5" y1="416.1" x2="585.5" y2="412.5" stroke="#1a1a1a" stroke-width="1.1"/>
<line x1="739" y1="416.1" x2="739" y2="400" stroke="#1a1a1a" stroke-width="1.2"/>
<line x1="846.5" y1="416.1" x2="846.5" y2="311" stroke="#1a1a1a" stroke-width="1.6"/>
<line x1="848.1" y1="416.1" x2="848.1" y2="392.7" stroke="#444" stroke-width="1.1"/>
<line x1="849.6" y1="416.1" x2="849.6" y2="410.5" stroke="#555" stroke-width="1"/>
<line x1="446" y1="416.1" x2="446" y2="414" stroke="#1a1a1a" stroke-width="1"/>
<line x1="477.5" y1="416.1" x2="477.5" y2="414.2" stroke="#1a1a1a" stroke-width="1"/>
<line x1="513.4" y1="416.1" x2="513.4" y2="414" stroke="#1a1a1a" stroke-width="1"/>
<line x1="690" y1="416.1" x2="690" y2="414.2" stroke="#1a1a1a" stroke-width="1"/>
<line x1="720" y1="416.1" x2="720" y2="414" stroke="#1a1a1a" stroke-width="1"/>
<line x1="790" y1="416.1" x2="790" y2="414.3" stroke="#1a1a1a" stroke-width="1"/>
<line x1="611" y1="416.1" x2="611" y2="414.6" stroke="#1a1a1a" stroke-width="1"/>
<line x1="613.5" y1="416.1" x2="613.5" y2="414.6" stroke="#1a1a1a" stroke-width="1"/>
<line x1="637.8" y1="416.1" x2="637.8" y2="414.3" stroke="#1a1a1a" stroke-width="1"/>
<line x1="654.4" y1="416.1" x2="654.4" y2="413.2" stroke="#1a1a1a" stroke-width="1"/>
<line x1="675.7" y1="416.1" x2="675.7" y2="414" stroke="#1a1a1a" stroke-width="1"/>
<line x1="800" y1="416.1" x2="800" y2="414.5" stroke="#1a1a1a" stroke-width="1"/>
<text x="442.6" y="407.8" font-size="9" stroke="#111" stroke-width="0.32" textLength="39.8" lengthAdjust="spacingAndGlyphs">121.0271</text>
<text x="510.6" y="394.3" font-size="9.8" stroke="#111" stroke-width="0.32" textLength="41.4" lengthAdjust="spacingAndGlyphs">165.0177</text>
<text x="540.8" y="244.4" font-size="9.4" stroke="#111" stroke-width="0.32" textLength="37.6" lengthAdjust="spacingAndGlyphs">183.0311</text>
<text x="564.1" y="410.2" font-size="9.8" stroke="#111" stroke-width="0.32" textLength="40" lengthAdjust="spacingAndGlyphs">199.0227</text>
<text x="717" y="399.3" font-size="9.2" stroke="#111" stroke-width="0.32" textLength="42" lengthAdjust="spacingAndGlyphs">297.0218</text>
<text x="824" y="309.8" font-size="9.4" stroke="#111" stroke-width="0.32" textLength="42.2" lengthAdjust="spacingAndGlyphs">367.0696</text>
<text x="496.4" y="264.8" font-size="10.8" stroke="#111" stroke-width="0.32" textLength="25.6" lengthAdjust="spacingAndGlyphs">[M-H]</text>
<text x="522.8" y="257.9" font-size="7" stroke="#111" stroke-width="0.32" textLength="4.6" lengthAdjust="spacingAndGlyphs">−</text>
<text x="527.8" y="264.8" font-size="10.8" stroke="#111" stroke-width="0.32" textLength="26.6" lengthAdjust="spacingAndGlyphs">= 183</text>
<text x="763.6" y="328.8" font-size="11" stroke="#111" stroke-width="0.32" textLength="34.4" lengthAdjust="spacingAndGlyphs">[2 M-H]</text>
<text x="798.9" y="320.8" font-size="7" stroke="#111" stroke-width="0.32" textLength="3.4" lengthAdjust="spacingAndGlyphs">−</text>
<text x="805.7" y="328.8" font-size="11" stroke="#111" stroke-width="0.32" textLength="27.9" lengthAdjust="spacingAndGlyphs">= 367</text>
<text x="732.4" y="447.4" font-size="22.8" stroke="#f28c46" stroke-width="0.32" font-family="'DejaVu Sans', sans-serif" textLength="136.6" lengthAdjust="spacingAndGlyphs" fill="#f28c46" font-weight="bold">cn-ferment</text>
<text x="849" y="444.8" font-size="10" stroke="#333" stroke-width="0.32" textLength="22.5" lengthAdjust="spacingAndGlyphs" fill="#333" fill-opacity="0.75">m /z</text>
<text x="869.6" y="447.6" font-size="17.5" stroke="#5d7890" stroke-width="0.32" font-family="'DejaVu Sans', sans-serif" textLength="6" lengthAdjust="spacingAndGlyphs" fill="#5d7890" font-weight="bold">.</text>
<text x="878.2" y="447.6" font-size="18.2" stroke="#747474" stroke-width="0.32" font-family="'DejaVu Sans', sans-serif" textLength="47" lengthAdjust="spacingAndGlyphs" fill="#747474" font-weight="bold">COM</text>
</svg>
</body></html>
